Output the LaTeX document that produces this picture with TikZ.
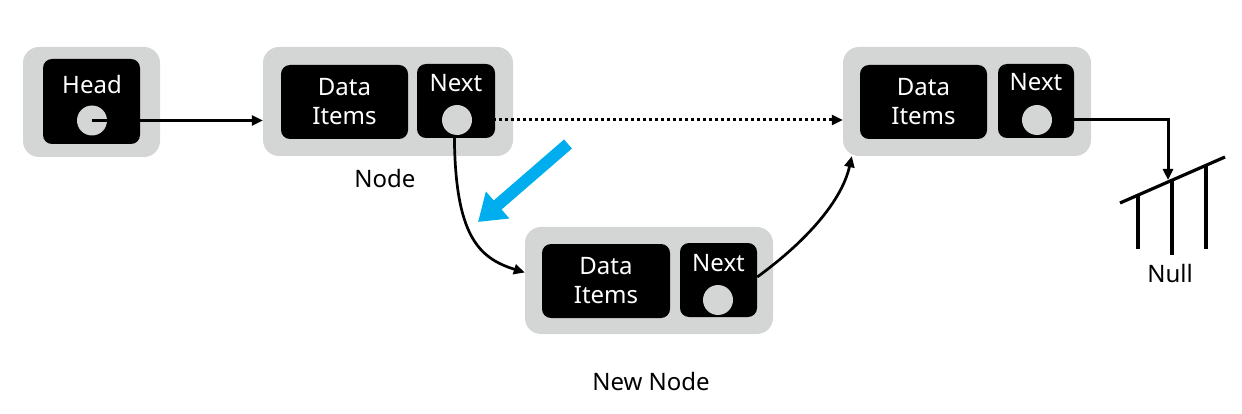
\documentclass[tikz,border=0pt]{standalone}
\usepackage{fontspec}
\setmainfont{Noto Sans}
\usetikzlibrary{arrows.meta}
\definecolor{boxgray}{RGB}{212,213,213}
\definecolor{arrowblue}{RGB}{0,174,239}
\begin{document}
\begin{tikzpicture}[x=1pt,y=-1pt,
  outerbox/.style={fill=boxgray, rounded corners=16pt, minimum height=109pt, inner sep=0pt},
  blackbox/.style={fill=black, rounded corners=9pt, minimum height=74pt, inner sep=0pt, text=white, align=center, font=\fontsize{24}{29}\selectfont},
  ptr/.style={circle, fill=boxgray, minimum size=30pt, inner sep=0pt},
  lbl/.style={anchor=base, inner sep=0pt, font=\fontsize{24}{29}\selectfont},
  wlbl/.style={lbl, text=white},
  conn/.style={line width=3pt, -{Triangle[length=11pt,width=10pt]}},
]
\useasboundingbox (0,0) rectangle (1242,414);
% outer boxes
\node[outerbox, minimum width=137pt, minimum height=110pt] (hout) at (91.5,102) {};
\node[outerbox, minimum width=250pt] (n1out) at (388,101.5) {};
\node[outerbox, minimum width=248pt] (n3out) at (967,101.5) {};
\node[outerbox, minimum width=248pt, minimum height=107pt] (nnout) at (649,280.5) {};
% black boxes
\node[blackbox, minimum width=97pt, minimum height=85pt] (hbox) at (91.5,101.5) {};
\node[blackbox, minimum width=127pt] (n1data) at (344.5,102) {Data\\Items};
\node[blackbox, minimum width=78pt] (n1next) at (456,101) {};
\node[blackbox, minimum width=127pt] (n3data) at (923.5,102) {Data\\Items};
\node[blackbox, minimum width=76pt] (n3next) at (1036,101) {};
\node[blackbox, minimum width=128pt] (nndata) at (606,281) {Data\\Items};
\node[blackbox, minimum width=77pt] (nnnext) at (718.5,280) {};
% labels in boxes
\node[wlbl] (htxt) at (92,94) {Head};
\node[wlbl] (n1txt) at (456,91.5) {Next};
\node[wlbl] (n3txt) at (1036,91) {Next};
\node[wlbl] (nntxt) at (718.5,271) {Next};
% pointer circles coordinates
\coordinate (hcpos) at (92,120.5);
\coordinate (n1cpos) at (457,120);
\coordinate (n3cpos) at (1037,120);
\coordinate (nncpos) at (718,300);
% dotted link behind the circle
\draw[line width=3pt, dash pattern=on 3pt off 3pt, -{Triangle[length=11pt,width=10pt]}] (n1cpos) -- (n1cpos -| n3out.west);
% null link behind the circle
\coordinate (gnd) at (1168,180);
\draw[conn] (n3cpos) -| (gnd);
% circles
\node[ptr] (hc) at (hcpos) {};
\node[ptr] (n1c) at (n1cpos) {};
\node[ptr] (n3c) at (n3cpos) {};
\node[ptr] (nnc) at (nncpos) {};
% head arrow
\draw[conn] (hc.center) -- (hc.center -| n1out.west);
% curves
\draw[conn, line width=2.7pt] (n1c.-100) .. controls (455,235) and (478,258) .. ([yshift=8pt]nnout.west);
\draw[conn, line width=2.7pt] ([yshift=3pt]nnnext.east) .. controls (808,240) and (842,200) .. ([xshift=9pt]n3out.south west);
% blue arrow
\coordinate (bs) at (568,144);
\coordinate (be) at (478,222);
\draw[arrowblue, line width=12pt, -{Triangle[length=26pt,width=34pt]}] (bs) -- (be);
% ground / null symbol
\draw[line width=3.2pt] (1120,203) -- (1225,157);
\draw[line width=3.2pt] (1138,195) -- (1138,249);
\draw[line width=3.2pt] (1172,180) -- (1172,255);
\draw[line width=3.2pt] (1206,165) -- (1206,249);
% outside labels
\node[lbl] (nodelbl) at (385,188) {Node};
\node[lbl] (newlbl) at (651,390) {New Node};
\node[lbl] (nulllbl) at (1170,282) {Null};
\end{tikzpicture}
\end{document}
